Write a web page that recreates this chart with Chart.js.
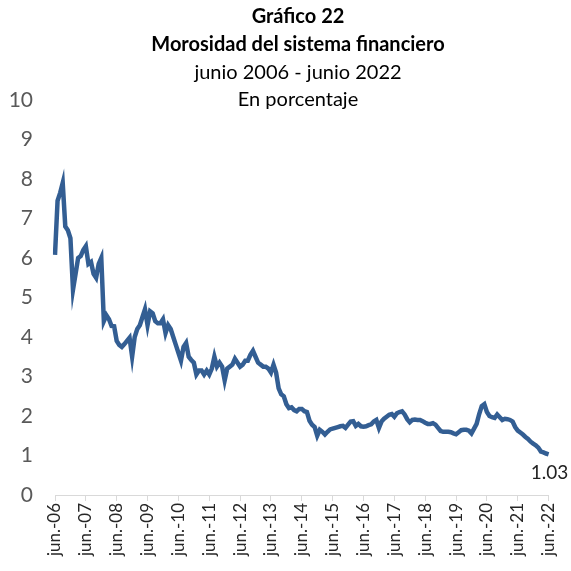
<!DOCTYPE html>
<html>
<head>
<meta charset="utf-8">
<script src="https://cdn.jsdelivr.net/npm/chart.js@4.4.0/dist/chart.umd.min.js"></script>
<style>
  body { margin: 0; background: #fff; }
  #wrap { width: 571px; height: 571px; }
</style>
</head>
<body>
<div id="wrap"><canvas id="moraChart"></canvas></div>
<script>
const meses = ['jun.', 'jul.', 'ago.', 'sep.', 'oct.', 'nov.', 'dic.', 'ene.', 'feb.', 'mar.', 'abr.', 'may.'];
const anios = ['06', '07', '08', '09', '10', '11', '12', '13', '14', '15', '16', '17', '18', '19', '20', '21', '22'];

// morosidad mensual, jun-06 a jun-22 (una fila por año, jun a may)
const morosidad = [
  6.08, 7.45, 7.65, 7.90, 6.80, 6.70, 6.50, 5.20, 5.60, 6.00, 6.05, 6.20,
  6.30, 5.85, 5.90, 5.60, 5.50, 5.85, 6.00, 4.40, 4.55, 4.45, 4.28, 4.27,
  3.90, 3.80, 3.75, 3.82, 3.90, 3.98, 3.50, 4.00, 4.20, 4.30, 4.50, 4.70,
  4.30, 4.65, 4.60, 4.40, 4.35, 4.35, 4.45, 4.10, 4.30, 4.20, 4.00, 3.80,
  3.60, 3.40, 3.75, 3.85, 3.50, 3.42, 3.35, 3.05, 3.15, 3.15, 3.05, 3.15,
  3.05, 3.20, 3.50, 3.25, 3.35, 3.25, 2.90, 3.20, 3.25, 3.30, 3.45, 3.35,
  3.25, 3.30, 3.40, 3.40, 3.55, 3.65, 3.50, 3.35, 3.30, 3.25, 3.25, 3.20,
  3.10, 3.30, 3.10, 2.70, 2.55, 2.50, 2.30, 2.20, 2.22, 2.15, 2.12, 2.18,
  2.18, 2.12, 2.10, 1.88, 1.78, 1.72, 1.50, 1.65, 1.60, 1.53, 1.60, 1.66,
  1.68, 1.70, 1.72, 1.74, 1.75, 1.70, 1.78, 1.86, 1.87, 1.75, 1.80, 1.74,
  1.73, 1.74, 1.77, 1.79, 1.86, 1.90, 1.70, 1.86, 1.93, 1.98, 2.03, 2.05,
  1.98, 2.07, 2.10, 2.12, 2.04, 1.92, 1.84, 1.90, 1.91, 1.90, 1.90, 1.87,
  1.83, 1.80, 1.80, 1.82, 1.78, 1.70, 1.62, 1.60, 1.60, 1.60, 1.59, 1.56,
  1.54, 1.59, 1.64, 1.65, 1.65, 1.63, 1.56, 1.68, 1.80, 2.05, 2.25, 2.30,
  2.10, 2.00, 1.97, 1.95, 2.04, 1.97, 1.90, 1.93, 1.92, 1.90, 1.86, 1.72,
  1.63, 1.58, 1.53, 1.47, 1.42, 1.35, 1.30, 1.26, 1.20, 1.10, 1.08, 1.05,
  1.03
];

const titulo = ['Gráfico 22', 'Morosidad del sistema financiero', 'junio 2006 - junio 2022', 'En porcentaje'];

// etiquetas mensuales: jun.-06 ... jun.-22
const labels = [];
for (let i = 0; i < morosidad.length; i++) {
  const y = Math.floor(i / 12) + (i % 12 >= 7 ? 1 : 0);
  labels.push(meses[i % 12] + '-' + anios[y]);
}

const fuente = 'Lato, "Noto Sans", sans-serif';

const textosPlugin = {
  id: 'textos',
  afterDraw(chart) {
    const ctx = chart.ctx;
    ctx.save();
    ctx.fillStyle = '#000';
    ctx.textAlign = 'center';
    ctx.textBaseline = 'middle';
    const cx = 298;
    ctx.font = 'bold 20px ' + fuente;
    ctx.fillText(titulo[0], cx, 17);
    ctx.fillText(titulo[1], cx, 45);
    ctx.font = '20px ' + fuente;
    ctx.fillText(titulo[2], cx, 73);
    ctx.fillText(titulo[3], cx, 100);

    // etiqueta del último dato
    const last = morosidad.length - 1;
    const px = chart.scales.x.getPixelForValue(last);
    const py = chart.scales.y.getPixelForValue(morosidad[last]);
    ctx.font = '19px ' + fuente;
    ctx.fillStyle = '#222';
    ctx.fillText(morosidad[last].toFixed(2), px + 1, py + 19);
    ctx.restore();
  }
};

const ctx = document.getElementById('moraChart').getContext('2d');
new Chart(ctx, {
  type: 'line',
  data: {
    labels: labels,
    datasets: [{
      data: morosidad,
      borderColor: '#335e93',
      borderWidth: 4.5,
      pointRadius: 0,
      tension: 0,
      fill: false
    }]
  },
  options: {
    responsive: true,
    maintainAspectRatio: false,
    animation: false,
    layout: { padding: { top: 100, right: 22, left: 0, bottom: 0 } },
    plugins: {
      legend: { display: false },
      title: { display: false },
      tooltip: { enabled: false }
    },
    scales: {
      x: {
        offset: false,
        grid: { drawOnChartArea: false, drawTicks: true, tickLength: 6, color: '#d9d9d9' },
        border: { display: true, color: '#d9d9d9', width: 1 },
        ticks: {
          autoSkip: false,
          maxRotation: 90,
          minRotation: 90,
          padding: 2,
          color: '#262626',
          font: { family: fuente, size: 17 },
          callback: function(val, idx) {
            return idx % 12 === 0 ? this.getLabelForValue(val) : null;
          }
        },
        afterFit: (s) => { s.height = 76; }
      },
      y: {
        min: 0,
        max: 10,
        grid: { display: false, drawTicks: false },
        border: { display: false },
        ticks: {
          stepSize: 1,
          padding: 22,
          color: '#595959',
          font: { family: fuente, size: 21 }
        },
        afterFit: (s) => { s.width = 55; }
      }
    }
  },
  plugins: [textosPlugin]
});
</script>
</body>
</html>
